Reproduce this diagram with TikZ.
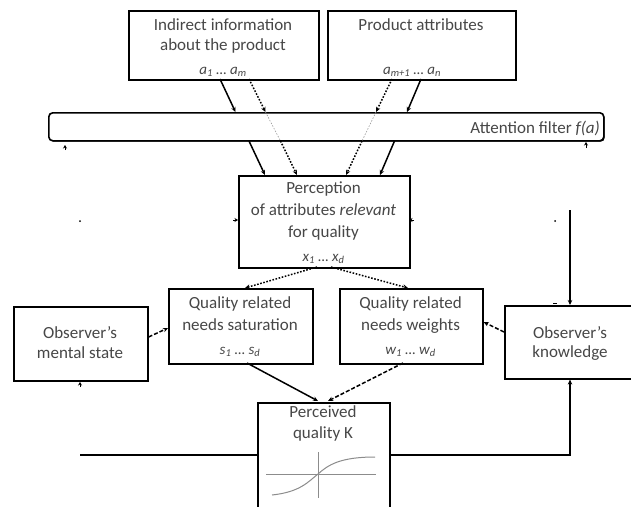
\documentclass[tikz,border=0pt]{standalone}
\usepackage{fontspec}
\setmainfont{Carlito}
\usetikzlibrary{arrows.meta,shadows}
\begin{document}
\begin{tikzpicture}[x=1pt,y=-1pt]
\tikzset{
  box/.style={draw=black, line width=1.6pt, fill=white, inner sep=0pt, anchor=north west,
    drop shadow={shadow xshift=0.9pt, shadow yshift=-0.9pt, fill=black, opacity=1}},
  txt/.style={text=black!72, font=\fontsize{17}{20}\selectfont, inner sep=0pt, anchor=base},
  subtxt/.style={txt, font=\fontsize{15}{18}\selectfont\itshape},
  tipp/.style={-{Stealth[length=5pt,width=4.5pt]}},
  conn/.style={line width=1.5pt, tipp},
  dotconn/.style={conn, dash pattern=on 1.6pt off 1.6pt},
  dashconn/.style={conn, dash pattern=on 4pt off 2pt},
  ghost/.style={line width=0.6pt, draw=black!40, dash pattern=on 1.5pt off 1.5pt},
  plain/.style={line width=1.5pt},
  tinytip/.style={line width=0.8pt, -{Stealth[length=3.5pt,width=4pt]}},
  graphline/.style={line width=1pt, draw=black!45},
}
\useasboundingbox (0,0) rectangle (631,506);
\fill[white] (0,0) rectangle (631,506);

% ---------- boxes ----------
\node[box, minimum width=190pt, minimum height=69pt] (ind) at (128,10) {};
\node[box, minimum width=188pt, minimum height=69pt] (attr) at (327,10) {};
\node[box, rounded corners=4pt, minimum width=555pt, minimum height=28pt] (filter) at (48,112) {};
\node[box, minimum width=171pt, minimum height=92pt] (perc) at (238,175) {};
\node[box, minimum width=144pt, minimum height=75pt] (sat) at (168,288) {};
\node[box, minimum width=143pt, minimum height=75pt] (wts) at (339,288) {};
\node[box, minimum width=134pt, minimum height=74pt] (mental) at (13,306) {};
\node[box, minimum width=140pt, minimum height=73pt] (know) at (504,305) {};
\node[box, minimum width=132pt, minimum height=115pt] (pq) at (257,402) {};

% ---------- texts ----------
\node[txt] (t1a) at (223,30) {Indirect information};
\node[txt] (t1b) at (223,50) {about the product};
\node[subtxt] (t1c) at (223,74) {a\textsubscript{1} … a\textsubscript{m}};
\node[txt] (t2a) at (421,30) {Product attributes};
\node[subtxt] (t2c) at (412,74) {a\textsubscript{m+1} … a\textsubscript{n}};
\node[txt, anchor=base east] (tf) at (600,133) {Attention filter \textit{f(a)}};
\node[txt] (p1) at (323.5,193) {Perception};
\node[txt] (p2) at (323.5,215) {of attributes \textit{relevant}};
\node[txt] (p3) at (323.5,237) {for quality};
\node[subtxt] (p4) at (323.5,261) {x\textsubscript{1} … x\textsubscript{d}};
\node[txt] (s1) at (240,308) {Quality related};
\node[txt] (s2) at (240,330) {needs saturation};
\node[subtxt] (s3) at (240,354) {s\textsubscript{1} … s\textsubscript{d}};
\node[txt] (w1) at (410.5,308) {Quality related};
\node[txt] (w2) at (410.5,330) {needs weights};
\node[subtxt] (w3) at (410.5,354) {w\textsubscript{1} … w\textsubscript{d}};
\node[txt] (m1) at (80,338) {Observer’s};
\node[txt] (m2) at (80,358) {mental state};
\node[txt] (k1) at (570,338) {Observer’s};
\node[txt] (k2) at (570,357) {knowledge};
\node[txt] (q1) at (323,417) {Perceived};
\node[txt] (q2) at (323,438) {quality K};

% ---------- connector points ----------
\coordinate (aS) at (220,79);   \coordinate (aSt) at (235.5,112);
\coordinate (aSb) at (249,141); \coordinate (aSp) at (265,175);
\coordinate (aD) at (249,79);   \coordinate (aDt) at (265.5,112);
\coordinate (aDb) at (280.5,141); \coordinate (aDp) at (297,175);
\coordinate (bD) at (392,79);   \coordinate (bDt) at (376,112);
\coordinate (bDb) at (362,141); \coordinate (bDp) at (346,175);
\coordinate (bS) at (421,79);   \coordinate (bSt) at (407,112);
\coordinate (bSb) at (394.5,141); \coordinate (bSp) at (380,175);

% through the filter
\draw[conn] (aS) -- (aSt);
\draw[dotconn] (aD) -- (aDt);
\draw[dotconn] (bD) -- (bDt);
\draw[conn] (bS) -- (bSt);
\draw[ghost] (aDt) -- (aDb);
\draw[ghost] (bDt) -- (bDb);
\draw[conn] (aSb) -- (aSp);
\draw[dotconn] (aDb) -- (aDp);
\draw[dotconn] (bDb) -- (bDp);
\draw[conn] (bSb) -- (bSp);

% perception to needs
\draw[dotconn] (317,267) -- (245,288);
\draw[dotconn] (331,267) -- (408,288);

% side inputs to needs
\draw[dashconn] (mental.east |- 0,337) -- (sat.west |- 0,328);
\draw[dashconn] (know.west |- 0,332) -- (wts.east |- 0,322);

% needs to perceived quality
\draw[conn] (247,363) -- (318,401);
\draw[dashconn] (403,363) -- (328,401);

% feedback lines
\draw[plain] (80,455) -- (pq.west |- 0,455);
\draw[conn] (pq.east |- 0,455) -- (570,455) -- (know.south -| 570,0);
\draw[conn] (570,210) -- (know.north -| 570,0);

% perceived quality graph
\draw[graphline] (266,474) -- (376,474);
\draw[graphline] (318,452) -- (318,498);
\draw[graphline] (272,495) .. controls (300,492) and (308,482) .. (318,474)
   .. controls (328,465) and (340,457) .. (375,457);

% residual marks
\draw[tinytip] (65,150) -- (65,145);
\draw[tinytip] (586,148) -- (586,142);
\draw[tinytip] (80,387) -- (80,382);
\draw[tinytip] (233,220) -- (238,220);
\draw[tinytip] (414,220) -- (409,220);
\fill (80,221) circle (1pt);
\fill (555,221) circle (1pt);
\draw[line width=0.8pt] (553,303) -- (557,303);
\end{tikzpicture}
\end{document}
